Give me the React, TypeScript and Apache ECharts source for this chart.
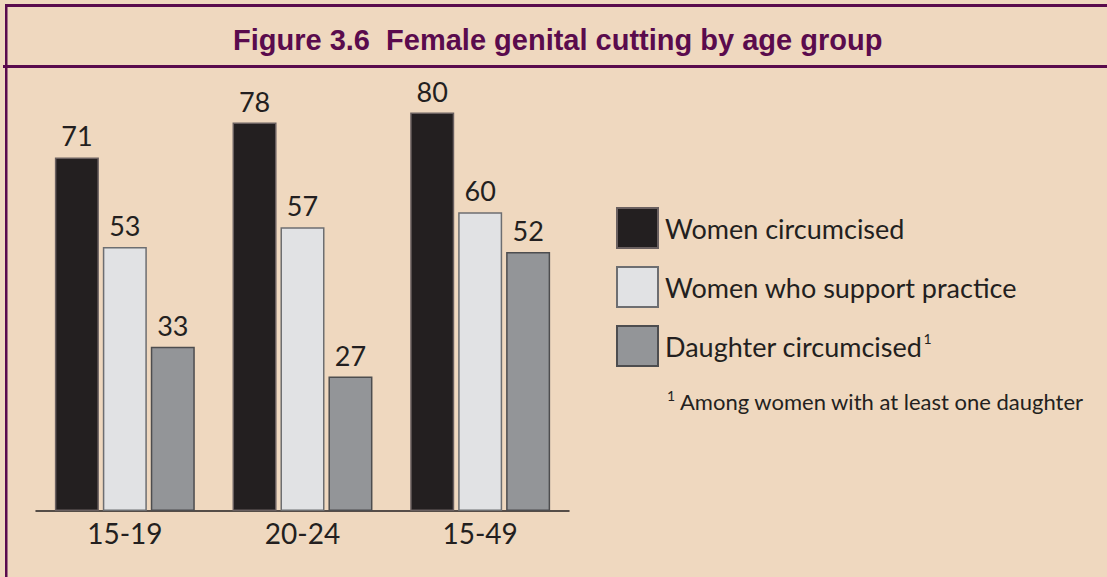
import React, { useEffect, useRef } from "react";
import * as echarts from "echarts";

const categories = ["15-19", "20-24", "15-49"];
const womenCircumcised = [71, 78, 80];
const womenSupport = [53, 57, 60];
const daughterCircumcised = [33, 27, 52];
const seriesNames = ["Women circumcised", "Women who support practice", "Daughter circumcised"];
const titleText = "Figure 3.6  Female genital cutting by age group";
const footnoteText = "Among women with at least one daughter";

const FONT = "Lato";
const PURPLE = "#5a0b4d";
const BG = "#efd8bf";

export default function App() {
  const ref = useRef<HTMLDivElement>(null);
  useEffect(() => {
    if (!ref.current) return;
    const chart = echarts.init(ref.current, undefined, { renderer: "svg" });
    const colors = ["#231f20", "#e1e2e4", "#939598"];
    const borders = ["#6a6060", "#6d6e71", "#4d4d4f"];
    const data = [womenCircumcised, womenSupport, daughterCircumcised];
    chart.setOption({
      animation: false,
      backgroundColor: BG,
      title: {
        text: titleText,
        left: 228,
        top: 20,
        textStyle: {
          fontFamily: "Liberation Sans",
          fontWeight: "bold",
          fontSize: 29,
          color: PURPLE,
        },
      },
      grid: { left: 36, right: 1107 - 569, top: 13, bottom: 577 - 511 },
      xAxis: {
        type: "category",
        data: categories,
        axisLine: { lineStyle: { color: "#231f20", width: 1.5 } },
        axisTick: { show: false },
        axisLabel: { fontFamily: FONT, fontSize: 28, color: "#231f20", margin: 8 },
      },
      yAxis: { type: "value", min: 0, max: 100, show: false },
      legend: {
        orient: "vertical",
        left: 611,
        top: 202,
        itemWidth: 41,
        itemHeight: 40,
        itemGap: 17,
        icon: "rect",
        data: seriesNames,
        formatter: (name: string) =>
          name === "Daughter circumcised" ? `{n|${name}}{s|1}` : `{n|${name}}`,
        textStyle: {
          rich: {
            n: { fontFamily: FONT, fontSize: 27, color: "#231f20", padding: [0, 0, 0, 2] },
            s: { fontFamily: FONT, fontSize: 14, color: "#231f20", padding: [0, 0, 16, 1] },
          },
        },
      },
      series: seriesNames.map((name, i) => ({
        name,
        type: "bar",
        data: data[i],
        barWidth: 44,
        barGap: "9%",
        itemStyle: { color: colors[i], borderColor: borders[i], borderWidth: 1.5 },
        label: {
          show: true,
          position: "top",
          distance: 8,
          fontFamily: FONT,
          fontSize: 27,
          color: "#231f20",
        },
      })),
      graphic: [
        { type: "rect", shape: { x: 5, y: 4, width: 1102, height: 3 }, style: { fill: PURPLE } },
        { type: "rect", shape: { x: 5, y: 4, width: 2.5, height: 573 }, style: { fill: PURPLE } },
        { type: "rect", shape: { x: 3, y: 65, width: 1104, height: 3 }, style: { fill: PURPLE } },
        {
          type: "text",
          left: 667,
          top: 388,
          style: { text: "1", fontFamily: FONT, fontSize: 14, fill: "#231f20" },
        },
        {
          type: "text",
          left: 680,
          top: 390,
          style: { text: footnoteText, fontFamily: FONT, fontSize: 22, fill: "#231f20" },
        },
      ],
    });
    return () => chart.dispose();
  }, []);
  return (
    <div
      ref={ref}
      style={{ position: "absolute", left: 0, top: 0, width: 1107, height: 577 }}
    />
  );
}
